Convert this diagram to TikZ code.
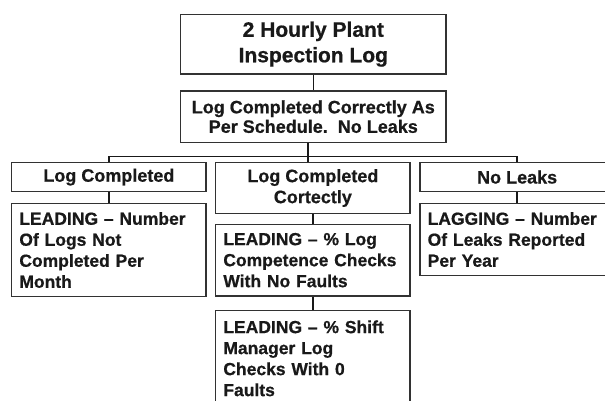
\documentclass[tikz,border=0pt]{standalone}
\usepackage{fontspec}
\setmainfont{Liberation Sans}[BoldFeatures={FakeBold=0.6}]
\definecolor{ink}{RGB}{25,25,25}
\definecolor{edge}{RGB}{50,50,50}
\begin{document}
\begin{tikzpicture}[x=1pt,y=-1pt,
  box/.style={draw=edge, line width=1.1pt, inner sep=0pt, minimum width=194.3pt,
    align=center, text=ink, font=\bfseries\fontsize{18}{21}\selectfont},
  big/.style={box, minimum width=265.3pt},
  note/.style={box, text width=179pt, align=left,
    font=\bfseries\fontsize{17.5}{21}\selectfont},
  link/.style={draw=ink, line width=1.6pt}]
\useasboundingbox (0,0) rectangle (605,401);
\clip (0,0) rectangle (605,401);
\fill[white] (0,0) rectangle (605,401);
% level 1 and 2
\node[big, minimum height=59.7pt, font=\bfseries\fontsize{21}{25.5}\selectfont]
  (log) at (313.3,44.15) {2 Hourly Plant\\Inspection Log};
\node[big, minimum height=51.3pt, font=\bfseries\fontsize{18}{19.5}\selectfont]
  (sched) at (313.3,116.65) {Log Completed Correctly As\\Per Schedule.\ \ No Leaks};
% level 3
\node[box, minimum height=28.8pt] (done) at (108.85,177.1) {Log Completed};
\node[box, minimum height=50.6pt] (correct) at (312.85,188) {Log Completed\\Cortectly};
\node[box, minimum height=28.8pt] (leaks) at (517.15,177.1) {No Leaks};
% level 4
\node[note, minimum height=93.4pt] (notdone) at (108.85,250)
  {LEADING – Number\\Of Logs Not\\Completed Per\\Month};
\node[note, minimum height=71.7pt] (competence) at (312.85,260.15)
  {LEADING – \% Log\\Competence Checks\\With No Faults};
\node[note, minimum height=72.4pt] (reported) at (517.15,239.5)
  {LAGGING – Number\\Of Leaks Reported\\Per Year};
% level 5
\node[note, minimum height=95.3pt] (shift) at (312.85,358.35)
  {LEADING – \% Shift\\Manager Log\\Checks With 0\\Faults};
% connectors
\coordinate (hub) at (307.7,156.7);
\draw[link] (log.south) -- (sched.north);
\draw[link] (hub |- sched.south) -- (hub |- correct.north);
\draw[link] (done.north) |- (hub) -| (leaks.north);
\draw[link] (done.south) -- (notdone.north);
\draw[link] (correct.south) -- (competence.north);
\draw[link] (leaks.south) -- (reported.north);
\draw[link] (competence.south) -- (shift.north);
\end{tikzpicture}
\end{document}
